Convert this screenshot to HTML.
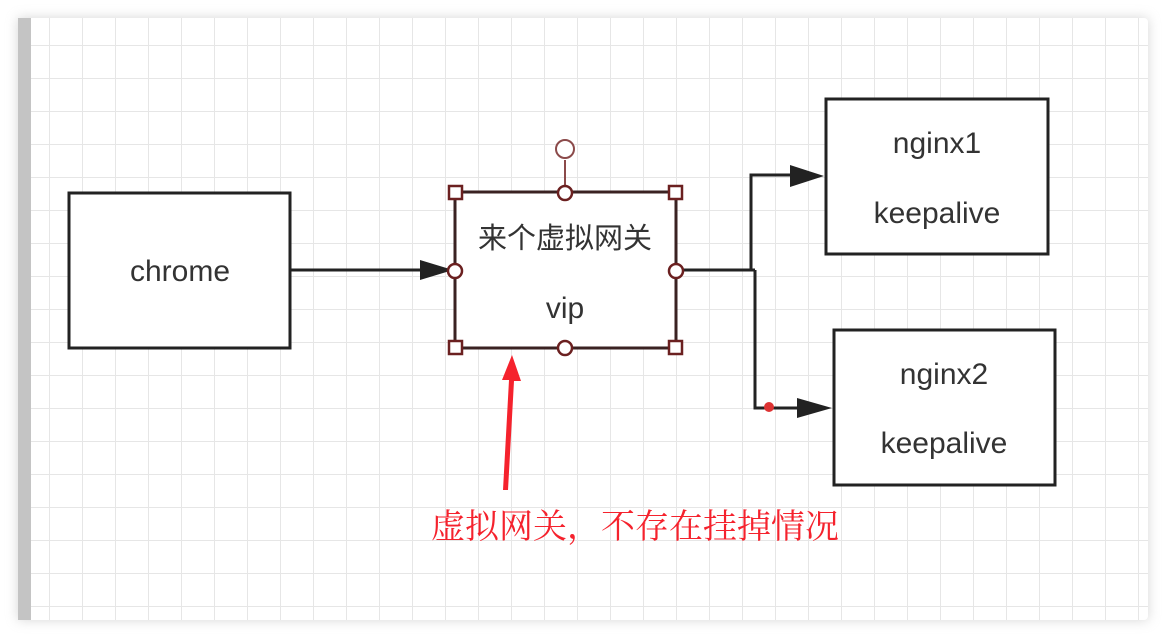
<!DOCTYPE html>
<html><head><meta charset="utf-8"><style>
html,body{margin:0;padding:0;background:#fff;width:1166px;height:638px;overflow:hidden}
</style></head><body>
<svg width="1166" height="638" xmlns="http://www.w3.org/2000/svg">
<defs>
<pattern id="g" x="16" y="12" width="33" height="33" patternUnits="userSpaceOnUse">
<path d="M0 0H33M0 0V33" stroke="#e6e6e6" stroke-width="2" fill="none"/>
</pattern>
<filter id="sh" x="-5%" y="-5%" width="110%" height="110%"><feGaussianBlur stdDeviation="6"/></filter>
</defs>
<rect x="18" y="18" width="1130" height="602" fill="#bbb" filter="url(#sh)" opacity="0.6"/>
<rect x="18" y="18" width="1130" height="602" rx="4" fill="#fff"/>
<rect x="31" y="18" width="1117" height="602" fill="url(#g)"/>
<rect x="18" y="18" width="13" height="602" fill="#c4c4c4"/>
<g stroke="#222" stroke-width="3" fill="#fff">
<rect x="69" y="193" width="221" height="155"/>
<rect x="826" y="99" width="222" height="155"/>
<rect x="834" y="330" width="221" height="155"/>
</g>
<rect x="455" y="192" width="221" height="156" fill="#fff" stroke="#3a2222" stroke-width="3"/>
<g stroke="#222" stroke-width="3" fill="none">
<path d="M290 270H425"/>
<path d="M676 270H755M751 270V175H795M755 270V408H800"/>
</g>
<g fill="#222">
<path d="M420 260L453 270L420 280Z"/>
<path d="M790 165L824 176L790 187Z"/>
<path d="M797 398L832 408L797 418Z"/>
</g>
<circle cx="769" cy="407" r="5" fill="#d33"/>
<line x1="565" y1="160" x2="565" y2="192" stroke="#8b4a4a" stroke-width="2"/>
<circle cx="565" cy="149" r="9" fill="#fff" stroke="#8b4a4a" stroke-width="2"/>
<g fill="#fff" stroke="#6b2020" stroke-width="2.5">
<rect x="449" y="186" width="13" height="13"/><rect x="669" y="186" width="13" height="13"/>
<rect x="449" y="341" width="13" height="13"/><rect x="669" y="341" width="13" height="13"/>
<circle cx="565" cy="193" r="7"/><circle cx="565" cy="348" r="7"/>
<circle cx="455" cy="271" r="7"/><circle cx="676" cy="271" r="7"/>
</g>
<path d="M503 490L509 380L502 380L512 355L521 381L514 381L508 490Z" fill="#f5222d"/>
<g font-family="'Liberation Sans','Noto Sans CJK SC',sans-serif" font-size="30" fill="#333" text-anchor="middle">
<text x="180" y="281">chrome</text>
<text x="565" y="248" font-size="29">来个虚拟网关</text>
<text x="565" y="318">vip</text>
<text x="937" y="153">nginx1</text>
<text x="937" y="223">keepalive</text>
<text x="944" y="384">nginx2</text>
<text x="944" y="453">keepalive</text>
</g>
<text x="635" y="538" text-anchor="middle" font-family="'Noto Serif CJK SC',serif" font-size="34" fill="#f5222d">虚拟网关，不存在挂掉情况</text>
</svg>
</body></html>
